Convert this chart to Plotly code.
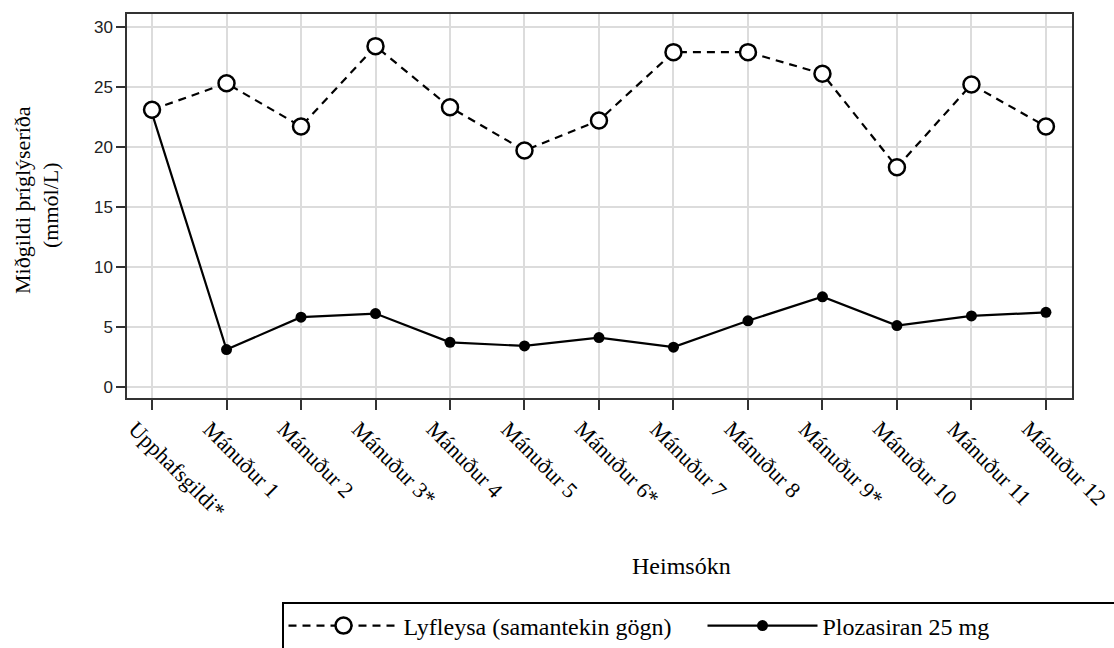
import plotly.graph_objects as go

categories = ["Upphafsgildi*", "Mánuður 1", "Mánuður 2", "Mánuður 3*", "Mánuður 4",
              "Mánuður 5", "Mánuður 6*", "Mánuður 7", "Mánuður 8", "Mánuður 9*",
              "Mánuður 10", "Mánuður 11", "Mánuður 12"]
placebo = [23.1, 25.3, 21.7, 28.4, 23.3, 19.7, 22.2, 27.9, 27.9, 26.1, 18.3, 25.2, 21.7]
plozasiran = [22.8, 3.1, 5.8, 6.1, 3.7, 3.4, 4.1, 3.3, 5.5, 7.5, 5.1, 5.9, 6.2]
y_ticks = [0, 5, 10, 15, 20, 25, 30]

serif = "Liberation Serif, Times New Roman, serif"
sans = "Liberation Sans, Arial, sans-serif"

x_idx = list(range(len(categories)))

# plot-area geometry in pixels
FW, FH = 1114, 648
L, R, T, B = 127, 1072, 14, 398
W, H = R - L, B - T


def px_x(x):
    return (x - L) / W


def px_y(y):
    return (B - y) / H


fig = go.Figure()
fig.add_trace(go.Scatter(
    x=x_idx, y=plozasiran, mode="lines+markers", name="Plozasiran 25 mg",
    line=dict(color="black", width=2.2),
    marker=dict(symbol="circle", size=11, color="black"),
    legendrank=2,
))
fig.add_trace(go.Scatter(
    x=x_idx, y=placebo, mode="lines+markers", name="Lyfleysa (samantekin gögn)",
    line=dict(color="black", width=2.2, dash="8px,6px"),
    marker=dict(symbol="circle", size=16, color="white", line=dict(color="black", width=2.5)),
    legendrank=1,
))

# category labels (rotated), placed on the x axis scale
cat_annotations = [
    dict(
        text=c, xref="x", yref="paper", x=i, y=0, textangle=45,
        xanchor="left", yanchor="top", xshift=-30, yshift=-17, showarrow=False,
        borderpad=0,
        font=dict(family=serif, size=22, color="black"),
    )
    for i, c in zip(x_idx, categories)
]

fig.update_layout(
    width=FW, height=FH,
    paper_bgcolor="white", plot_bgcolor="white",
    margin=dict(l=L, r=FW - R, t=T, b=FH - B, autoexpand=False),
    showlegend=True,
    legend=dict(
        orientation="h", x=px_x(282), y=px_y(602), xanchor="left", yanchor="top",
        bordercolor="black", borderwidth=1.5, bgcolor="white",
        font=dict(family=serif, size=24, color="black"),
        itemwidth=110, entrywidth=294, traceorder="normal",
    ),
    xaxis=dict(
        range=[-0.336, 12.35], tickmode="array", tickvals=x_idx, showticklabels=False,
        showgrid=True, gridcolor="#dcdcdc", gridwidth=1.5,
        showline=True, linecolor="#333333", linewidth=1.5, mirror=True,
        ticks="outside", ticklen=10, tickcolor="#333333", tickwidth=1.5,
        zeroline=False, automargin=False,
    ),
    yaxis=dict(
        range=[-0.94, 31.08], tickmode="array", tickvals=y_ticks,
        tickfont=dict(family=sans, size=17, color="#222222"),
        showgrid=True, gridcolor="#dcdcdc", gridwidth=1.5,
        showline=True, linecolor="#333333", linewidth=1.5, mirror=True,
        ticks="outside", ticklen=9, tickcolor="#333333", tickwidth=1.5,
        zeroline=False, automargin=False,
    ),
    annotations=cat_annotations + [
        dict(
            text="Heimsókn", xref="paper", yref="paper", x=px_x(681), y=px_y(566),
            xanchor="center", yanchor="middle", showarrow=False,
            font=dict(family=serif, size=24, color="black"),
        ),
        dict(
            text="Miðgildi þríglýseríða", xref="paper", yref="paper",
            x=px_x(22), y=px_y(200), textangle=-90,
            xanchor="center", yanchor="middle", showarrow=False,
            font=dict(family=serif, size=22, color="black"),
        ),
        dict(
            text="(mmól/L)", xref="paper", yref="paper",
            x=px_x(50), y=px_y(205), textangle=-90,
            xanchor="center", yanchor="middle", showarrow=False,
            font=dict(family=serif, size=22, color="black"),
        ),
    ],
)

fig.write_html(
    "out.html",
    config={"displayModeBar": False},
    post_script="document.body.style.margin='0';document.body.style.overflow='hidden';",
)
